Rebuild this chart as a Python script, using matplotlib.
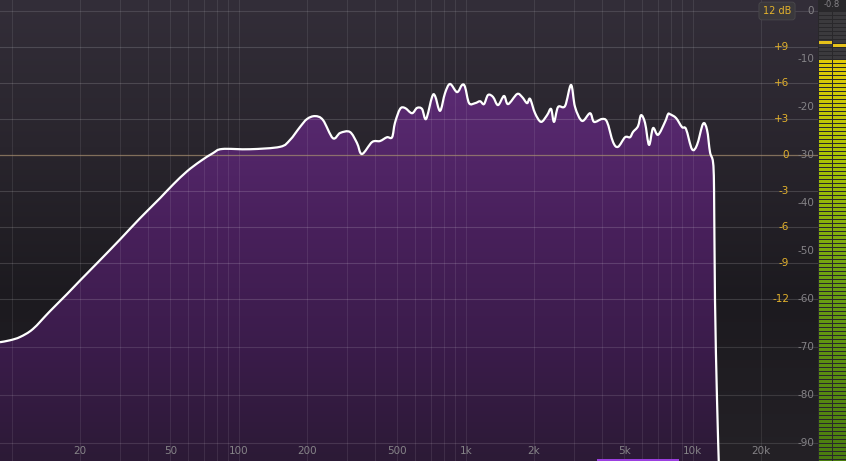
import numpy as np
import matplotlib
matplotlib.use("Agg")
import matplotlib.pyplot as plt
from matplotlib.colors import LinearSegmentedColormap
from matplotlib.path import Path
from matplotlib.patches import PathPatch

OUT = "out.png"

# spectrum readout: frequency (Hz) and level (dB, analyser scale 0..-90)
FREQ = [8.88, 9.83, 10.9, 12.4, 14.7, 17.5, 20, 24.5, 30, 36.7, 45, 51.4, 59.2, 67.5, 77.1, 84.5,
        112, 152, 168, 186, 200, 217, 235, 260, 280, 309, 332, 349, 387, 419, 450, 474, 488,
        514, 540, 580, 610, 642, 669, 711, 733, 771, 811, 853, 916, 964, 993, 1035, 1100,
        1157, 1204, 1254, 1319, 1388, 1475, 1537, 1684, 1771, 1863, 1921, 2021, 2147, 2283,
        2377, 2450, 2552, 2739, 2911, 3032, 3255, 3530, 3676, 3987, 4194, 4458, 4690, 5035,
        5296, 5460, 5743, 5921, 6166, 6421, 6687, 7036, 7553, 7786, 7945, 8446, 8976, 9348,
        9933, 10450, 11110, 11570, 11920, 12290, 12420, 12540, 12800, 13060]
LEVEL = [-69.0, -68.6, -67.9, -66.25, -62.6, -59.0, -56.15, -51.9, -47.6, -43.2, -39.0, -36.15,
         -33.4, -31.35, -29.6, -28.75, -28.8, -28.3, -26.9, -24.2, -22.5, -21.9, -22.7, -26.5,
         -25.4, -25.2, -27.5, -29.8, -27.3, -27.1, -26.3, -26.3, -23.3, -20.4, -20.2, -21.3,
         -20.2, -20.4, -22.5, -17.9, -17.7, -20.8, -17.1, -15.2, -16.9, -15.4, -15.8, -19.2,
         -19.2, -18.8, -19.4, -17.5, -17.9, -19.6, -17.7, -19.4, -17.3, -17.9, -19.2, -18.3,
         -21.3, -23.1, -21.7, -20.4, -23.1, -20.0, -19.8, -15.4, -20.0, -22.9, -21.3, -23.1,
         -22.5, -23.1, -27.3, -28.3, -26.3, -26.3, -25.2, -24.0, -21.7, -23.3, -27.9, -24.4,
         -25.8, -23.1, -21.5, -21.5, -22.3, -24.2, -24.6, -28.8, -27.9, -23.5, -24.8, -29.4,
         -31.5, -37.3, -60.2, -81.0, -95.6]

GRID_FREQ = [10, 20, 30, 40, 50, 60, 70, 80, 90, 100, 200, 300, 400, 500, 600, 700, 800, 900,
             1000, 2000, 3000, 4000, 5000, 6000, 7000, 8000, 9000, 10000, 20000]
FREQ_TICKS = [20, 50, 100, 200, 500, 1000, 2000, 5000, 10000, 20000]
FREQ_LABELS = ["20", "50", "100", "200", "500", "1k", "2k", "5k", "10k", "20k"]
EQ_GAIN = [9, 6, 3, 0, -3, -6, -9, -12]
EQ_LABELS = ["+9", "+6", "+3", "0", "-3", "-6", "-9", "-12"]
DB_TICKS = [0, -10, -20, -30, -40, -50, -60, -70, -80, -90]
DB_GRID = [0, -70, -80, -90]
EQ_RANGE = "12 dB"
METER_LEVEL = [-10.2, -9.6]
METER_PEAK = [-6.2, -6.9]
PEAK_TEXT = "-0.8"
SEL_BAND = (3790, 8700)


def eq_to_db(g):
    # +/-12 dB EQ scale sits on the -30 dB analyser line, 3 dB = 7.5 dB
    return -30 + g * 2.5


def smooth_path(pts):
    # Catmull-Rom through the points, written as cubic Bezier segments
    p = np.vstack([pts[0], pts, pts[-1]])
    verts, codes = [pts[0]], [Path.MOVETO]
    for i in range(1, len(p) - 2):
        c1 = p[i] + (p[i + 1] - p[i - 1]) / 6
        c2 = p[i + 1] - (p[i + 2] - p[i]) / 6
        verts += [c1, c2, p[i + 1]]
        codes += [Path.CURVE4] * 3
    return verts, codes


YLIM = (-93.75, 2.29)
XLIM = (8.88, 35650)
GOLD = "#e3b22c"
GREY = "#858387"

fig = plt.figure(figsize=(8.46, 4.61), dpi=100)
fig.patch.set_facecolor("#2a292c")
pw = 818 / 846

# background gradient + fill gradient live in a plain axes behind
bg = fig.add_axes([0, 0, pw, 1])
bg.set_axis_off()
bg_cmap = LinearSegmentedColormap.from_list(
    "bg", [(0, "#242126"), (0.35, "#1c1a1f"), (0.68, "#29252d"), (1, "#332e39")])
bg.imshow(np.linspace(0, 1, 256)[::-1, None], aspect="auto", cmap=bg_cmap,
          extent=[0, 1, 0, 1], zorder=0)
bg.set_xlim(0, 1)
bg.set_ylim(0, 1)

ax = fig.add_axes([0, 0, pw, 1])
ax.set_xscale("log")
ax.set_xlim(*XLIM)
ax.set_ylim(*YLIM)
ax.set_axis_off()
ax.patch.set_alpha(0)

# curve in scaled (log10 f, dB) space, then mapped by the axes' limits
scaled = ax.transScale.transform(np.column_stack([FREQ, LEVEL]))
trans = ax.transLimits + ax.transAxes
verts, codes = smooth_path(scaled)
bottom = ax.transScale.transform([[FREQ[-1], YLIM[0] - 10], [FREQ[0], YLIM[0] - 10]])
area = Path(np.vstack([verts, bottom, [verts[0]]]),
            codes + [Path.LINETO, Path.LINETO, Path.CLOSEPOLY])

fill_cmap = LinearSegmentedColormap.from_list(
    "fill", [(0, "#2c1a36"), (0.25, "#3b1c4b"), (0.5, "#48205b"), (0.8, "#5a2a72"),
             (1, "#62307c")])
img = bg.imshow(np.linspace(0, 1, 256)[::-1, None], aspect="auto", cmap=fill_cmap,
                extent=[0, 1, 0, 1], zorder=1)
img.set_clip_path(area, transform=trans)

# grid
for f in GRID_FREQ:
    ax.axvline(f, color="white", alpha=0.085, lw=0.8, zorder=2)
for g in EQ_GAIN:
    if g == 0:
        ax.axhline(eq_to_db(g), color="#a89070", alpha=0.7, lw=0.9, zorder=2)
    else:
        ax.axhline(eq_to_db(g), color="white", alpha=0.15, lw=0.8, zorder=2)
for d in DB_GRID:
    ax.axhline(d, color="white", alpha=0.12, lw=0.8, zorder=2)

ax.add_patch(PathPatch(Path(verts, codes), transform=trans, fc="none", ec="white", lw=1.6,
                       joinstyle="round", zorder=4))

# labels
for f, t in zip(FREQ_TICKS, FREQ_LABELS):
    ax.text(f, -91.7, t, ha="center", va="center", color=GREY, fontsize=7.5, zorder=5)
for g, t in zip(EQ_GAIN, EQ_LABELS):
    ax.text(789 / 818, eq_to_db(g), t, transform=ax.get_yaxis_transform(), ha="right",
            va="center", color=GOLD, fontsize=7.5, zorder=5)
for d in DB_TICKS:
    ax.text(814 / 818, d, str(d), transform=ax.get_yaxis_transform(), ha="right",
            va="center", color=GREY, fontsize=7.5, zorder=5)
ax.text(777 / 818, 1 - 11 / 461, EQ_RANGE, transform=ax.transAxes, ha="center", va="center",
        color=GOLD, fontsize=7,
        bbox=dict(boxstyle="round,pad=0.4,rounding_size=0.3", fc="#3a383c", ec="#4a484d",
                  lw=0.6), zorder=6)
ax.axvspan(*SEL_BAND, ymin=0, ymax=2.5 / 461, color="#9b3fe0", lw=0, zorder=5)

# level meter
m = fig.add_axes([818 / 846, 0, 28 / 846, 1])
m.set_xlim(0, 28)
m.set_ylim(*YLIM)
m.set_axis_off()
m.add_patch(plt.Rectangle((0, YLIM[0]), 28, YLIM[1] - YLIM[0], color="#29282b", zorder=0))
seg_cmap = LinearSegmentedColormap.from_list(
    "meter", [(0, "#4a7c10"), (0.45, "#6ca012"), (0.75, "#a8c204"), (1, "#e0ca06")])
step = 4 / 4.8
height = 3 / 4.8
tops = np.arange(-0.2, YLIM[0], -step)
for x0, lvl, pk in zip([1, 15], METER_LEVEL, METER_PEAK):
    for t in tops:
        if t <= lvl:
            c = seg_cmap(np.clip((t + 93) / 83, 0, 1))
        else:
            c = "#3b3a3d"
        m.add_patch(plt.Rectangle((x0, t - height), 12.5, height, color=c, lw=0, zorder=1))
    m.add_patch(plt.Rectangle((x0, pk - height), 12.5, height, color="#e6c21a", lw=0, zorder=2))
m.text(14, 1.4, PEAK_TEXT, ha="center", va="center", color=GREY, fontsize=6, zorder=3)

fig.savefig(OUT, dpi=100, facecolor=fig.get_facecolor())
